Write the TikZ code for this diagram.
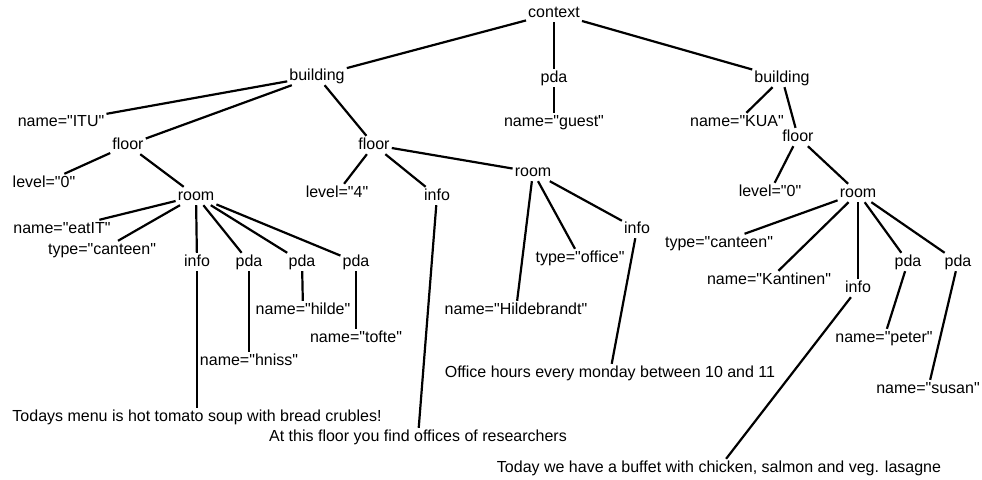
\documentclass[tikz,border=0pt]{standalone}
\usepackage{fontspec}
\setmainfont{Liberation Sans}[Ligatures=TeXOff]
\begin{document}
\begin{tikzpicture}[x=1pt,y=-1pt,
  every node/.style={inner sep=2pt,text height=11pt,text depth=3pt,font=\fontsize{16}{19}\selectfont},
  edge/.style={line width=2.2pt}]
\useasboundingbox (0,0) rectangle (982,479);

\node (ctx) at (554,13) {context};
\node (bldA) at (317,76) {building};
\node (pdaG) at (554,78) {pda};
\node (bldB) at (782,78) {building};

\node (nmITU) at (61,122) {name="ITU"};
\node (nmGuest) at (554,122) {name="guest"};
\node (nmKUA) at (737,122) {name="KUA"};

\node (flrA) at (128,145) {floor};
\node (flrB) at (374,145) {floor};
\node (flrC) at (798,137) {floor};

\node (lvlA) at (44,183) {level="0"};
\node (roomA) at (196,196) {room};
\node (lvlB) at (337,193) {level="4"};
\node (infoB) at (437,196) {info};
\node (roomB) at (533,172) {room};
\node (lvlC) at (770,192) {level="0"};
\node (roomC) at (858,193) {room};

\node (nmEat) at (62,229) {name="eatIT"};
\node (tyA) at (102,250) {type="canteen"};
\node (infoA) at (197,262) {info};
\node (pdaA) at (249,262) {pda};
\node (pdaB) at (302,262) {pda};
\node (pdaC) at (356,262) {pda};
\node (nmHilde) at (303,310) {name="hilde"};
\node (nmTofte) at (356,338) {name="tofte"};
\node (nmHniss) at (249,361) {name="hniss"};

\node (infoR) at (637,229) {info};
\node (tyB) at (580,258) {type="office"};
\node (nmHild) at (516,310) {name="Hildebrandt"};

\node (tyC) at (719,243) {type="canteen"};
\node (nmKant) at (769,280) {name="Kantinen"};
\node (infoC) at (858,288) {info};
\node (pdaD) at (908,262) {pda};
\node (pdaE) at (958,262) {pda};
\node (nmPeter) at (884,338) {name="peter"};
\node (nmSusan) at (928,389) {name="susan"};

\node (txtOffice) at (610,373) {Office hours every monday between 10 and 11};
\node (txtMenu) at (197,417) {Todays menu is hot tomato soup with bread crubles!};
\node (txtFloor) at (418,437) {At this floor you find offices of researchers};
\node (txtBuffet) at (719,468) {Today we have a buffet with chicken, salmon and veg. lasagne};

% top level
\draw[edge] (ctx) -- (bldA);
\draw[edge] (ctx) -- (pdaG);
\draw[edge] (ctx) -- (bldB);
\draw[edge] (pdaG) -- (nmGuest);

% left building
\draw[edge] (bldA) -- (nmITU);
\draw[edge] (bldA) -- (flrA);
\draw[edge] (bldA) -- (flrB);
\draw[edge] (flrA) -- (lvlA);
\draw[edge] (flrA) -- (roomA);
\draw[edge] (roomA) -- (nmEat);
\draw[edge] (roomA) -- (tyA);
\draw[edge] (roomA) -- (infoA);
\draw[edge] (roomA) -- (pdaA);
\draw[edge] (roomA) -- (pdaB);
\draw[edge] (roomA) -- (pdaC);
\draw[edge] (infoA) -- (txtMenu);
\draw[edge] (pdaA) -- (nmHniss);
\draw[edge] (pdaB) -- (nmHilde);
\draw[edge] (pdaC) -- (nmTofte);
\draw[edge] (flrB) -- (lvlB);
\draw[edge] (flrB) -- (infoB);
\draw[edge] (flrB) -- (roomB);
\draw[edge] (infoB) -- (txtFloor);
\draw[edge] (roomB) -- (nmHild);
\draw[edge] (roomB) -- (tyB);
\draw[edge] (roomB) -- (infoR);
\draw[edge] (infoR) -- (txtOffice);

% right building
\draw[edge] (bldB) -- (nmKUA);
\draw[edge] (bldB) -- (flrC);
\draw[edge] (flrC) -- (lvlC);
\draw[edge] (flrC) -- (roomC);
\draw[edge] (roomC) -- (tyC);
\draw[edge] (roomC) -- (nmKant);
\draw[edge] (roomC) -- (infoC);
\draw[edge] (roomC) -- (pdaD);
\draw[edge] (roomC) -- (pdaE);
\draw[edge] (infoC) -- (txtBuffet);
\draw[edge] (pdaD) -- (nmPeter);
\draw[edge] (pdaE) -- (nmSusan);
\end{tikzpicture}
\end{document}
